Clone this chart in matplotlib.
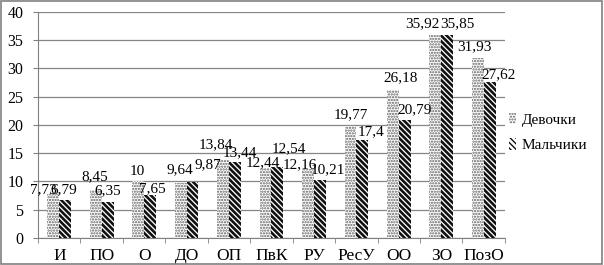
import matplotlib
matplotlib.use("Agg")
import matplotlib.pyplot as plt
import numpy as np

categories = ["И", "ПО", "О", "ДО", "ОП", "ПвК", "РУ", "РесУ", "ОО", "ЗО", "ПозО"]
girls = [7.73, 8.45, 10, 9.64, 13.84, 12.44, 12.16, 19.77, 26.18, 35.92, 31.93]
boys = [6.79, 6.35, 7.65, 9.87, 13.44, 12.54, 10.21, 17.4, 20.79, 35.85, 27.62]
girls_labels = ["7,73", "8,45", "10", "9,64", "13,84", "12,44", "12,16", "19,77", "26,18", "35,92", "31,93"]
boys_labels = ["6,79", "6,35", "7,65", "9,87", "13,44", "12,54", "10,21", "17,4", "20,79", "35,85", "27,62"]

plt.rcParams['font.family'] = ['Liberation Serif', 'DejaVu Serif']

fig = plt.figure(figsize=(6.04, 2.65), dpi=100)
ax = fig.add_axes([0.063, 0.102, 0.773, 0.853])

x = np.arange(len(categories))
w = 0.28
with plt.rc_context({'hatch.linewidth': 1.1}):
    ax.bar(x - w/2, girls, w, color='white', edgecolor='#606060', hatch='......',
           linewidth=0, label='Девочки', zorder=3)
with plt.rc_context({'hatch.linewidth': 1.9}):
    ax.bar(x + w/2, boys, w, color='white', edgecolor='#111111', hatch='\\\\\\\\\\\\',
           linewidth=0, label='Мальчики', zorder=3)

# label placement nudges in pixels (dx from bar centre, dy baseline above bar top)
px_x = 42.45
px_y = 5.65
girls_dx = [-10, -1, -1, -1, -7, -3, -8, 0, 8, -13, -3]
boys_dx = [-1, 0, 2, 15, 5, 11, 8, 9, 10, 10, 9]
girls_dy = [1, 9.6, 6.5, 10, 11.5, 1, 1, 8, 9, 8, 7.6]
boys_dy = [6.5, 7.8, 3, 14, 5.4, 15.4, 7, 4.7, 7, 8, 4]
for xi, v, t, dx, dy in zip(x, girls, girls_labels, girls_dx, girls_dy):
    ax.text(xi - w/2 + dx / px_x, v + dy / px_y, t, ha='center', va='baseline', fontsize=11)
for xi, v, t, dx, dy in zip(x, boys, boys_labels, boys_dx, boys_dy):
    ax.text(xi + w/2 + dx / px_x, v + dy / px_y, t, ha='center', va='baseline', fontsize=11)

ax.set_xlim(-0.5, len(categories) - 0.5)
ax.set_ylim(0, 40)
ax.set_yticks(range(0, 41, 5))
ax.set_xticks(x)
ax.set_xticklabels(categories, fontsize=12.5)
ax.set_xticks(np.arange(-0.5, len(categories), 1), minor=True)
ax.tick_params(axis='x', which='major', length=0, pad=7)
ax.tick_params(axis='x', which='minor', length=3.6, color='#808080')
ax.tick_params(axis='y', length=3.6, color='#808080', labelsize=11.5, pad=7)
ax.yaxis.grid(True, color='#868686', linewidth=0.9, zorder=0)
ax.set_axisbelow(True)
for s in ['top', 'right']:
    ax.spines[s].set_visible(False)
for s in ['left', 'bottom']:
    ax.spines[s].set_color('#808080')

ax.legend(loc='center left', bbox_to_anchor=(0.99, 0.467), frameon=False, fontsize=11,
          handlelength=0.45, handleheight=0.8, handletextpad=0.35, labelspacing=0.75,
          borderaxespad=0.2)

fig.patches.append(plt.Rectangle((0.002, 0.004), 0.995, 0.992, transform=fig.transFigure,
                                 fill=False, edgecolor='#808080', linewidth=1.2))

fig.savefig("out.png", dpi=100)
